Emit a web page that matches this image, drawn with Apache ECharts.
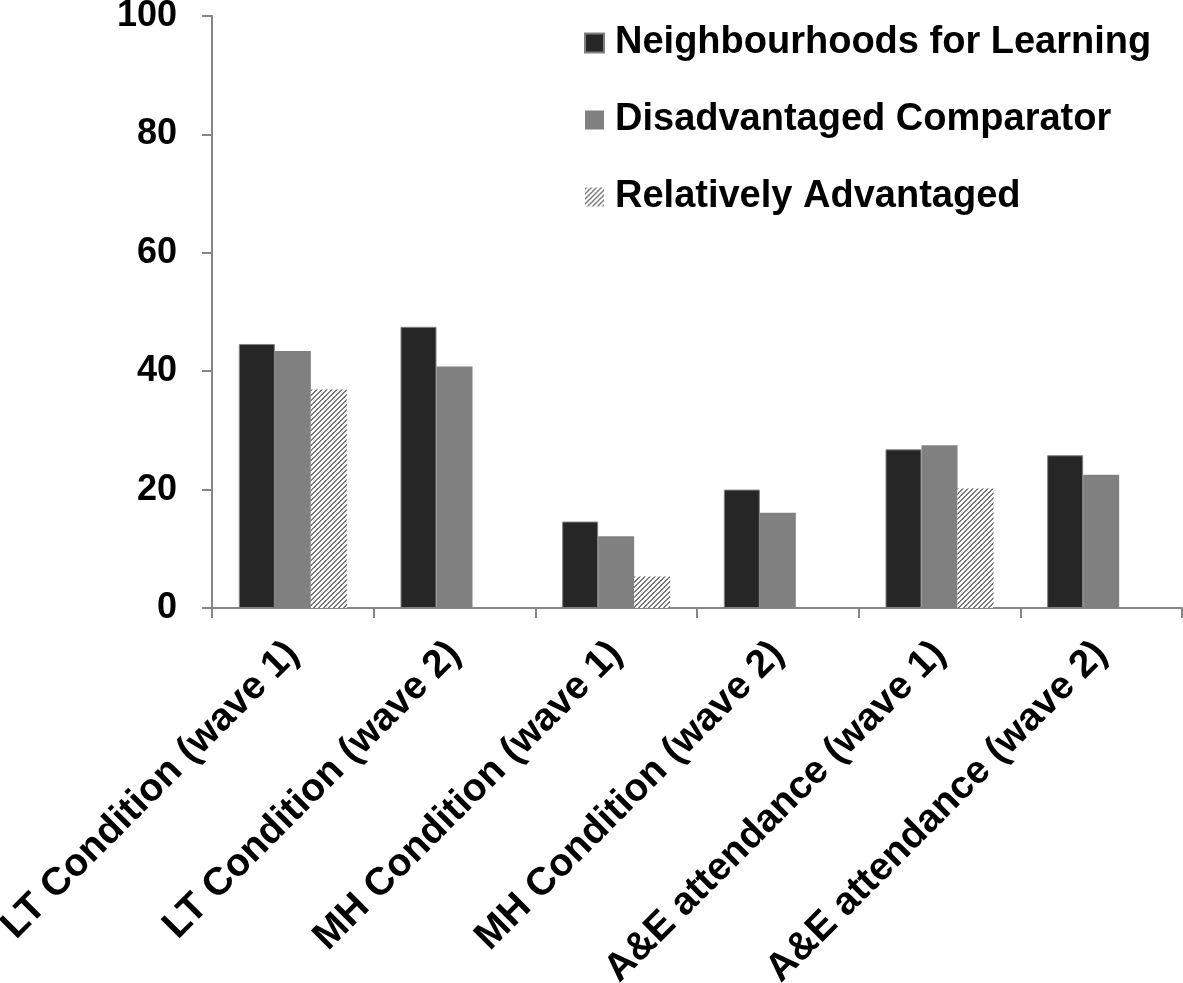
<!DOCTYPE html>
<html>
<head>
<meta charset="utf-8">
<script src="https://cdn.jsdelivr.net/npm/echarts@6/dist/echarts.min.js"></script>
<style>
html,body{margin:0;padding:0;background:#fff;}
#chart{width:1183px;height:983px;}
</style>
</head>
<body>
<div id="chart"></div>
<script>
const categories = ["LT Condition (wave 1)", "LT Condition (wave 2)", "MH Condition (wave 1)", "MH Condition (wave 2)", "A&E attendance (wave 1)", "A&E attendance (wave 2)"];
const seriesNames = ["Neighbourhoods for Learning", "Disadvantaged Comparator", "Relatively Advantaged"];
const nflValues = [44.6, 47.5, 14.6, 20.0, 26.8, 25.8];
const dcValues = [43.4, 40.8, 12.1, 16.1, 27.5, 22.5];
const raValues = [36.9, null, 5.3, null, 20.2, null];
const yTicks = [0, 20, 40, 60, 80, 100];

function hatch() {
  const n = 5;
  const c = document.createElement('canvas');
  c.width = n; c.height = n;
  const ctx = c.getContext('2d');
  ctx.fillStyle = '#ffffff';
  ctx.fillRect(0, 0, n, n);
  ctx.fillStyle = '#7a7a7a';
  for (let x = 0; x < n; x++) {
    for (let y = 0; y < n; y++) {
      if ((x + y) % n < 2) ctx.fillRect(x, y, 1, 1);
    }
  }
  return c;
}

const font = '"Liberation Sans", Arial, sans-serif';
const chart = echarts.init(document.getElementById('chart'), null, {renderer: 'canvas'});
chart.setOption({
  animation: false,
  backgroundColor: '#ffffff',
  grid: {left: 212, right: 1, top: 16, bottom: 375, containLabel: false, outerBoundsMode: 'none'},
  legend: {
    orient: 'vertical',
    left: 584,
    top: 24,
    padding: 0,
    itemWidth: 19,
    itemHeight: 19,
    itemGap: 39,
    icon: 'rect',
    textStyle: {fontFamily: font, fontWeight: 'bold', fontSize: 38, color: '#000', lineHeight: 38, padding: [0, 0, 0, 6]},
    data: seriesNames
  },
  xAxis: {
    type: 'category',
    data: categories,
    axisLine: {lineStyle: {color: '#868686', width: 2}},
    axisTick: {show: true, length: 10, lineStyle: {color: '#868686', width: 2}},
    axisLabel: {rotate: 45, margin: 40, interval: 0, fontFamily: font, fontWeight: 'bold', fontSize: 39, color: '#000'}
  },
  yAxis: {
    type: 'value',
    min: yTicks[0],
    max: yTicks[yTicks.length - 1],
    interval: 20,
    splitLine: {show: false},
    axisLine: {show: true, lineStyle: {color: '#868686', width: 2}},
    axisTick: {show: true, length: 10, lineStyle: {color: '#868686', width: 2}},
    axisLabel: {margin: 35, fontFamily: font, fontWeight: 'bold', fontSize: 36, color: '#000'}
  },
  series: [
    {name: seriesNames[0], type: 'bar', data: nflValues, barWidth: 36, barGap: '0%',
     itemStyle: {color: '#262626', borderColor: '#808080', borderWidth: 1}},
    {name: seriesNames[1], type: 'bar', data: dcValues, barWidth: 36, barGap: '0%',
     itemStyle: {color: '#808080'}},
    {name: seriesNames[2], type: 'bar', data: raValues, barWidth: 36, barGap: '0%',
     itemStyle: {color: {image: hatch(), repeat: 'repeat'}}}
  ]
});
</script>
</body>
</html>
